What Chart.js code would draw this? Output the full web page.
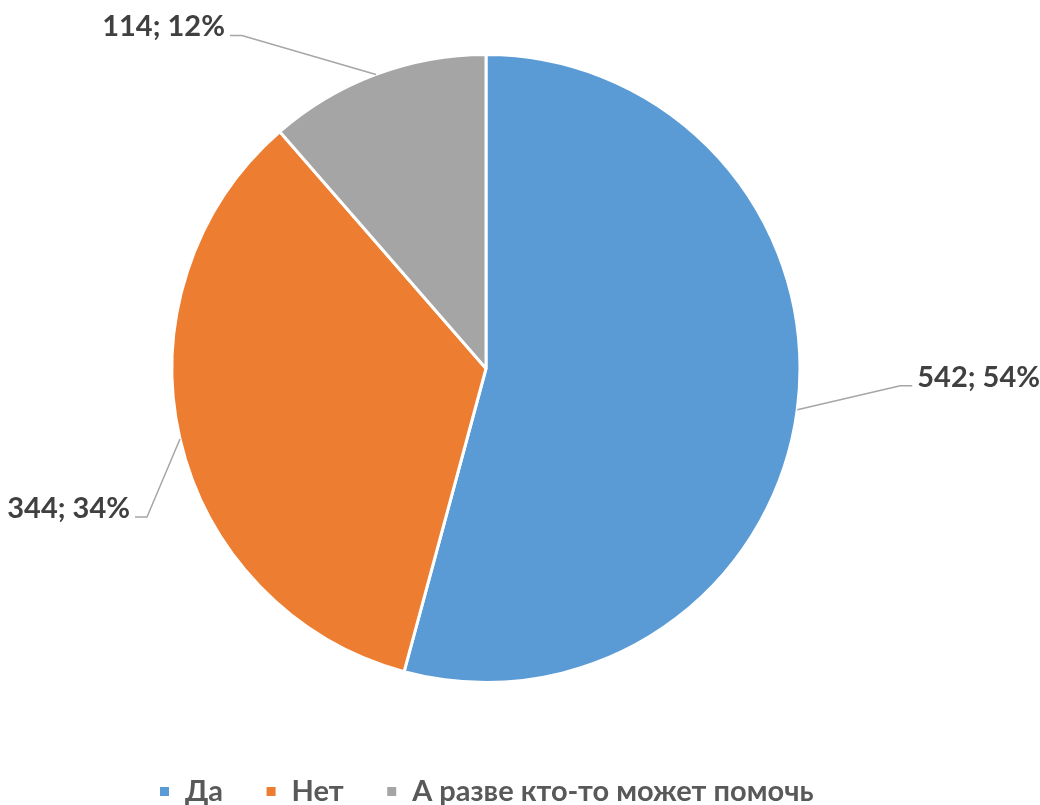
<!DOCTYPE html>
<html>
<head>
<meta charset="utf-8">
<script src="https://cdn.jsdelivr.net/npm/chart.js@4/dist/chart.umd.min.js"></script>
<style>
    html, body { margin: 0; padding: 0; background: #ffffff; }
    #wrap { width: 1040px; height: 805px; }
</style>
</head>
<body>
<div id="wrap"><canvas id="pieChart" width="1040" height="805"></canvas></div>
<script>
// Chart data
const categories = ['Да', 'Нет', 'А разве кто-то может помочь'];
const answerCounts = [542, 344, 114];
const percentLabels = [54, 34, 12];
const sliceColors = ['#5B9BD5', '#ED7D31', '#A5A5A5'];

// Where each data label sits relative to its slice's edge (elbow of the leader line)
const labelElbows = [[103, -24], [-33, 78], [-134, -39]];

/**
 * Draws "value; percent%" labels with bent leader lines, Excel style
 */
const leaderLabels = {
    id: 'leaderLabels',
    afterDatasetsDraw(chart) {
        const ctx = chart.ctx;
        const meta = chart.getDatasetMeta(0);
        ctx.save();
        ctx.font = 'bold 29px Lato';
        ctx.textBaseline = 'alphabetic';

        meta.data.forEach((arc, i) => {
            const { x, y, startAngle, endAngle, outerRadius } =
                arc.getProps(['x', 'y', 'startAngle', 'endAngle', 'outerRadius'], true);
            const mid = (startAngle + endAngle) / 2;
            const sx = x + Math.cos(mid) * outerRadius;
            const sy = y + Math.sin(mid) * outerRadius;
            const ex = sx + labelElbows[i][0];
            const ey = sy + labelElbows[i][1];
            const toRight = labelElbows[i][0] > 0;
            const hx = ex + (toRight ? 12 : -12);

            // leader line
            ctx.strokeStyle = '#A6A6A6';
            ctx.lineWidth = 1.5;
            ctx.beginPath();
            ctx.moveTo(sx, sy);
            ctx.lineTo(ex, ey);
            ctx.lineTo(hx, ey);
            ctx.stroke();

            // label text
            ctx.fillStyle = '#404040';
            ctx.textAlign = toRight ? 'left' : 'right';
            const text = `${answerCounts[i]}; ${percentLabels[i]}%`;
            ctx.fillText(text, hx + (toRight ? 5 : -5), ey + 1);
        });
        ctx.restore();
    }
};

function renderPieChart() {
    const canvas = document.getElementById('pieChart');
    if (!canvas) return;

    new Chart(canvas.getContext('2d'), {
        type: 'pie',
        data: {
            labels: categories,
            datasets: [{
                data: answerCounts,
                backgroundColor: sliceColors,
                borderColor: '#ffffff',
                borderWidth: 3,
                radius: 314
            }]
        },
        options: {
            responsive: false,
            animation: false,
            layout: {
                padding: { top: 2, left: 0, right: 68, bottom: -11 }
            },
            plugins: {
                legend: {
                    display: true,
                    position: 'bottom',
                    labels: {
                        boxWidth: 12,
                        boxHeight: 12,
                        padding: 42,
                        color: '#595959',
                        font: { family: 'Lato', size: 29, weight: 'bold' }
                    }
                },
                tooltip: { enabled: false }
            }
        },
        plugins: [leaderLabels]
    });
}

document.addEventListener('DOMContentLoaded', renderPieChart);
</script>
</body>
</html>
